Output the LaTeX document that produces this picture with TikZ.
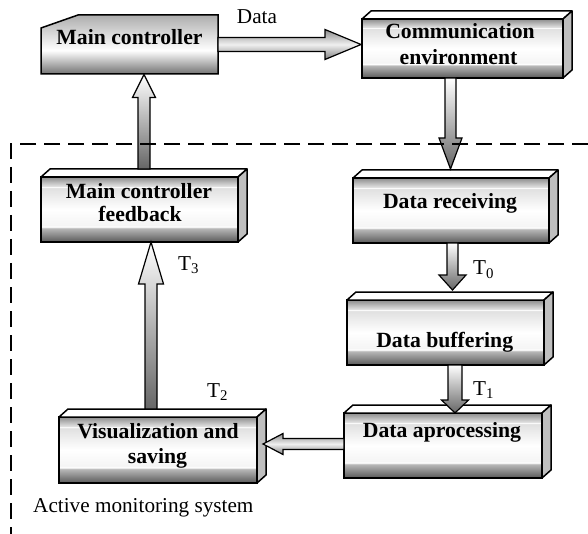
\documentclass[tikz,border=0pt]{standalone}
\usepackage{fontspec}
\setmainfont{Liberation Serif}
\usetikzlibrary{calc}
\pgfdeclareverticalshading{frontshade}{100bp}{color(0bp)=(black!65); color(25bp)=(black!65); color(35.5bp)=(black!28); color(36.75bp)=(white); color(38bp)=(black!4); color(50bp)=(white); color(66.5bp)=(black!12); color(67.25bp)=(white); color(68bp)=(black!12); color(75bp)=(black!45); color(100bp)=(black!45)}
\pgfdeclareverticalshading{mcshade}{100bp}{color(0bp)=(black!55); color(25bp)=(black!55); color(45bp)=(white); color(75bp)=(black!32); color(100bp)=(black!32)}
\tikzset{
  front/.style={draw=none, rectangle, inner sep=0pt, outer sep=0pt},
  facefront/.style={draw=black, line width=1.5pt, shading=frontshade},
  mcface/.style={draw=black, line width=1.5pt, shading=mcshade, line join=miter},
  facetop/.style={draw=black, line width=1.5pt, fill=white, line join=round},
  faceside/.style={draw=black, line width=1.5pt, fill=black!25, line join=round},
  btext/.style={font=\fontsize{21.7}{24}\selectfont\bfseries, inner sep=0pt, anchor=base},
  ltext/.style={font=\fontsize{21.2}{24}\selectfont, inner sep=0pt, anchor=base},
  ltextleft/.style={font=\fontsize{21.2}{24}\selectfont, inner sep=0pt, anchor=base west},
  varr/.style={draw=black, line width=1.2pt, top color=white, bottom color=black!60, line join=miter},
  harr/.style={draw=black, line width=1.2pt, top color=black!45, bottom color=black!50, middle color=black!6, line join=miter},
  boundary/.style={draw=black, line width=1.8pt, dash pattern=on 16pt off 8pt},
}
% 3D box: name, x, y, width, height
\newcommand{\boxthreed}[5]{%
  \node[front, minimum width=#4pt, minimum height=#5pt] (#1) at (#2,#3) {};
  \shadedraw[facefront] (#1.south west) rectangle (#1.north east);
  \filldraw[facetop] (#1.north west) -- ++(9,-8) -- ($(#1.north east)+(9,-8)$) -- (#1.north east) -- cycle;
  \filldraw[faceside] (#1.north east) -- ++(9,-8) -- ($(#1.south east)+(9,-8)$) -- (#1.south east) -- cycle;
}
% block arrows: start, tip, shaft half width, head half width, head length
\newcommand{\uparr}[5]{%
  \shadedraw[varr] let \p1=#1, \p2=#2 in (\x2-#3,\y1) -- (\x2-#3,\y2-#5) -- (\x2-#4,\y2-#5) -- (\x2,\y2) -- (\x2+#4,\y2-#5) -- (\x2+#3,\y2-#5) -- (\x2+#3,\y1) -- cycle;}
\newcommand{\downarr}[5]{%
  \shadedraw[varr] let \p1=#1, \p2=#2 in (\x2-#3,\y1) -- (\x2-#3,\y2+#5) -- (\x2-#4,\y2+#5) -- (\x2,\y2) -- (\x2+#4,\y2+#5) -- (\x2+#3,\y2+#5) -- (\x2+#3,\y1) -- cycle;}
\newcommand{\rightarr}[5]{%
  \shadedraw[harr] let \p1=#1, \p2=#2 in (\x1,\y2+#3) -- (\x2-#5,\y2+#3) -- (\x2-#5,\y2+#4) -- (\x2,\y2) -- (\x2-#5,\y2-#4) -- (\x2-#5,\y2-#3) -- (\x1,\y2-#3) -- cycle;}
\newcommand{\leftarr}[5]{%
  \shadedraw[harr] let \p1=#1, \p2=#2 in (\x1,\y2+#3) -- (\x2+#5,\y2+#3) -- (\x2+#5,\y2+#4) -- (\x2,\y2) -- (\x2+#5,\y2-#4) -- (\x2+#5,\y2-#3) -- (\x1,\y2-#3) -- cycle;}
\begin{document}
\begin{tikzpicture}[x=1pt, y=-1pt]
\useasboundingbox (0,0) rectangle (588,534);

% main controller (chamfered)
\node[front, minimum width=177pt, minimum height=59pt] (mc) at (129.5,44.5) {};
\shadedraw[mcface] (mc.south west) -- ($(mc.north west)+(0,13)$) -- ($(mc.north west)+(37,0)$) -- (mc.north east) -- (mc.south east) -- cycle;

% 3D boxes
\boxthreed{ce}{462.5}{48.5}{201}{59}
\boxthreed{dr}{451}{210.5}{196}{65}
\boxthreed{db}{445.5}{332.5}{197}{65}
\boxthreed{dp}{443}{445.5}{198}{65}
\boxthreed{vs}{158}{450}{198}{66}
\boxthreed{fb}{139.5}{209.5}{197}{65}

% box texts
\node[btext] (mct) at (129.5,45) {Main controller};
\node[btext] (cet1) at (460,39) {Communication};
\node[btext] (cet2) at (458.5,65) {environment};
\node[btext] (drt) at (450,209) {Data receiving};
\node[btext] (dbt) at (444.7,347) {Data buffering};
\node[btext] (dpt) at (442,437) {Data aprocessing};
\node[btext] (vst1) at (158,438) {Visualization and};
\node[btext] (vst2) at (157.5,463) {saving};
\node[btext] (fbt1) at (139,199) {Main controller};
\node[btext] (fbt2) at (140,222) {feedback};

% connectors (block arrows)
\rightarr{(mc.east)}{($(ce.west)+(-1,-4)$)}{7pt}{15pt}{36pt}
\downarr{($(ce.south)+(-12,0)$)}{($(dr.north)+(-0.5,-9)$)}{5.5pt}{11.5pt}{31pt}
\downarr{($(dr.south)+(1.5,0)$)}{($(db.north)+(7,-10)$)}{5.5pt}{13.5pt}{15pt}
\downarr{($(db.south)+(9.5,0)$)}{($(dp.north)+(12,0)$)}{7pt}{13.5pt}{13pt}
\leftarr{($(dp.west)+(0,-1.5)$)}{($(vs.east)+(6,-6)$)}{5.5pt}{10.5pt}{20pt}
\uparr{($(vs.north)+(-7,-8)$)}{($(fb.south)+(11.5,0)$)}{6pt}{12.5pt}{42pt}
\uparr{($(fb.north)+(4.5,-8)$)}{($(mc.south)+(14.5,0.5)$)}{6pt}{11.5pt}{23pt}

% labels
\node[ltext] (ldata) at (257,24) {Data};
\node[ltextleft] (lt0) at (473,275) {T\textsubscript{0}};
\node[ltextleft] (lt1) at (473,395) {T\textsubscript{1}};
\node[ltextleft] (lt2) at (207,397) {T\textsubscript{2}};
\node[ltextleft] (lt3) at (178,270) {T\textsubscript{3}};
\node[ltextleft] (lams) at (33,512) {Active monitoring system};

% system boundary
\coordinate (bR) at (588,144);
\coordinate (bC) at (11,144);
\coordinate (bB) at (11,534);
\draw[boundary] (bR) -- (bC) -- (bB);
\end{tikzpicture}
\end{document}
